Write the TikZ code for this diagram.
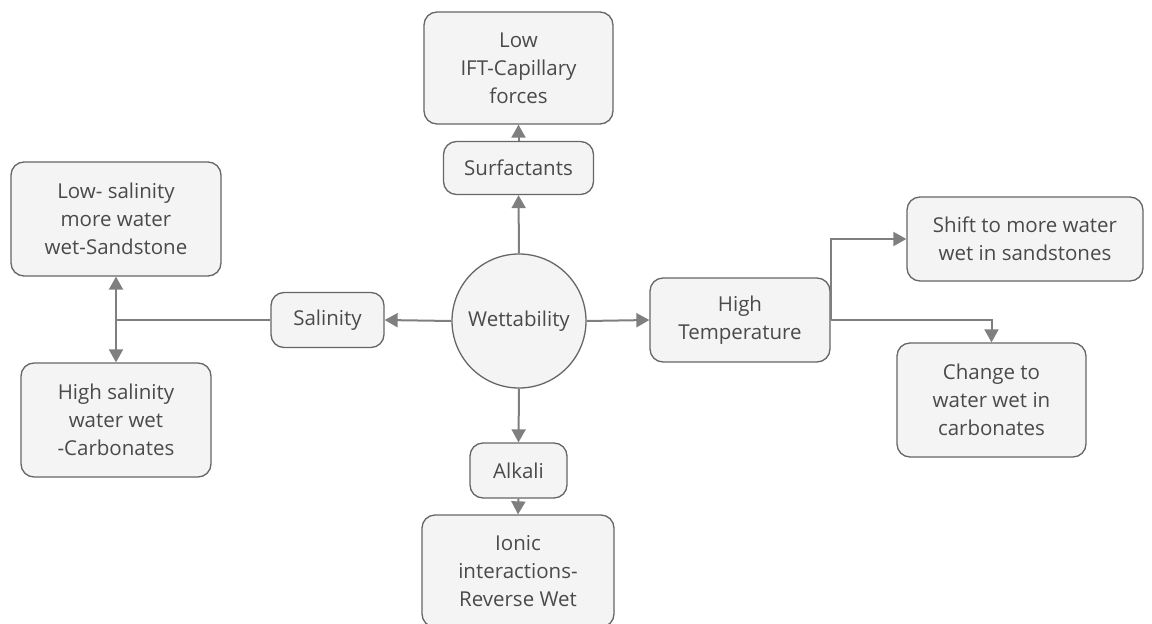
\documentclass[tikz,border=0pt]{standalone}
\usepackage{fontspec}
\setmainfont{Open Sans}
\usetikzlibrary{arrows.meta}
\definecolor{txt}{HTML}{4A4A4A}
\definecolor{bord}{HTML}{666666}
\definecolor{boxfill}{HTML}{F4F4F4}
\definecolor{conn}{HTML}{7F7F7F}
\tikzset{
  box/.style={draw=bord, line width=1.3pt, fill=boxfill, rounded corners=13pt, align=center, text=txt, inner sep=0pt, font=\fontsize{20.5}{28}\selectfont},
  circ/.style={draw=bord, line width=1.3pt, fill=boxfill, circle, align=center, text=txt, inner sep=0pt, font=\fontsize{20.5}{28}\selectfont},
  link/.style={draw=conn, line width=2pt},
  arr/.style={link, -{Triangle[length=13pt,width=14pt]}}
}
\begin{document}
\begin{tikzpicture}[x=1pt,y=-1pt]
\useasboundingbox (0,0) rectangle (1152,624);
\clip (0,0) rectangle (1152,624);
\node[circ, minimum size=134pt] (wet) at (519,321) {Wettability};
\node[box, minimum width=189pt, minimum height=112pt] (ift) at (518.5,68) {Low\\IFT-Capillary\\forces};
\node[box, minimum width=150pt, minimum height=53pt] (surf) at (518.5,168) {Surfactants};
\node[box, minimum width=113pt, minimum height=55pt] (sal) at (327.5,320) {Salinity};
\node[box, minimum width=210pt, minimum height=114pt] (lows) at (116,219) {Low- salinity\\more water\\wet-Sandstone};
\node[box, minimum width=190pt, minimum height=114pt] (highs) at (116,420) {High salinity\\water wet\\-Carbonates};
\node[box, minimum width=180pt, minimum height=84pt] (ht) at (740,320) {High\\Temperature};
\node[box, minimum width=236pt, minimum height=84pt] (shift) at (1025,239) {Shift to more water\\wet in sandstones};
\node[box, minimum width=189pt, minimum height=114pt] (change) at (991.5,400) {Change to\\water wet in\\carbonates};
\node[box, minimum width=97pt, minimum height=55pt] (alk) at (518.5,470.5) {Alkali};
\node[box, minimum width=192pt, minimum height=112pt] (ionic) at (518,571) {Ionic\\interactions-\\Reverse Wet};
\coordinate (j) at (116,320);
\draw[arr] (wet.north) -- (surf.south);
\draw[arr] (surf.north) -- (ift.south);
\draw[arr] (wet.south) -- (alk.north);
\draw[arr] (alk.south) -- (ionic.north);
\draw[arr] (wet.west) -- (sal.east);
\draw[link] (sal.west) -- (j);
\draw[arr] (j) -- (lows.south);
\draw[arr] (j) -- (highs.north);
\draw[arr] (wet.east) -- (ht.west);
\draw[arr] (ht.east) |- (shift.west);
\draw[arr] (ht.east) -| (change.north);
\end{tikzpicture}
\end{document}
